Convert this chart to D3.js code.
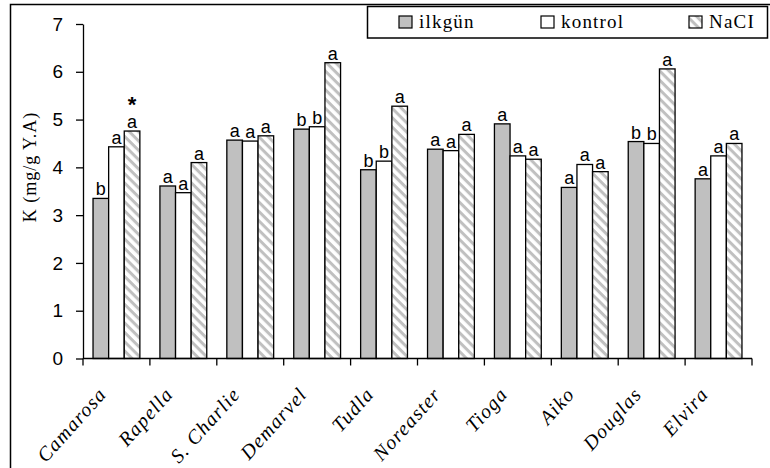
<!doctype html>
<html>
<head>
  <meta charset="utf-8">
  <title>K (mg/g Y.A)</title>
  <script src="https://cdn.jsdelivr.net/npm/d3@7/dist/d3.min.js"></script>
  <style>
    body { margin: 0; background: #fff; }
    svg { display: block; }
  </style>
</head>
<body>
<svg width="770" height="468"></svg>
<script>
var categories = ["Camarosa", "Rapella", "S. Charlie", "Demarvel", "Tudla",
                  "Noreaster", "Tioga", "Aiko", "Douglas", "Elvira"];
var seriesNames = ["ilkgün", "kontrol", "NaCI"];
var ilkgun  = [3.35, 3.61, 4.57, 4.80, 3.95, 4.38, 4.91, 3.58, 4.54, 3.76];
var kontrol = [4.43, 3.47, 4.55, 4.85, 4.13, 4.35, 4.24, 4.06, 4.50, 4.24];
var nacl    = [4.76, 4.10, 4.66, 6.19, 5.28, 4.69, 4.17, 3.91, 6.06, 4.50];
var ilkgunLetters  = ["b", "a", "a", "b", "b", "a", "a", "a", "b", "a"];
var kontrolLetters = ["a", "a", "a", "b", "b", "a", "a", "a", "b", "a"];
var naclLetters    = ["a", "a", "a", "a", "a", "a", "a", "a", "a", "a"];
var naclStars      = ["*", "", "", "", "", "", "", "", "", ""];
var yTicks = [0, 1, 2, 3, 4, 5, 6, 7];

var svg = d3.select("svg");

// hatch for NaCI bars
var defs = svg.append("defs");
var pat = defs.append("pattern")
    .attr("id", "hatch")
    .attr("patternUnits", "userSpaceOnUse")
    .attr("width", 8).attr("height", 6.6)
    .attr("patternTransform", "rotate(45)");
pat.append("rect").attr("width", 8).attr("height", 6.6).attr("fill", "#fff");
pat.append("rect").attr("width", 8).attr("height", 3).attr("fill", "#c0c0c0");

var fills = ["#c0c0c0", "#ffffff", "url(#hatch)"];
var values = [ilkgun, kontrol, nacl];
var letters = [ilkgunLetters, kontrolLetters, naclLetters];

// outer frame (left + top edges visible)
svg.append("path")
    .attr("d", "M10.5,470V4.5H772")
    .attr("fill", "none").attr("stroke", "#000").attr("stroke-width", 1.5);

var plotLeft = 83, plotRight = 752, plotTop = 24, plotBottom = 358.5;

var x0 = d3.scaleBand().domain(categories).range([plotLeft, plotRight])
    .paddingInner(0.3).paddingOuter(0.15);
var x1 = d3.scaleBand().domain(seriesNames).range([0, x0.bandwidth()]);
var y = d3.scaleLinear().domain([0, 7]).range([plotBottom, plotTop]);

// y axis
var yAxis = svg.append("g")
    .attr("transform", "translate(" + plotLeft + ",0)")
    .call(d3.axisLeft(y).tickValues(yTicks).tickFormat(d3.format("d"))
      .tickSize(7).tickSizeOuter(0).tickPadding(13));
yAxis.select(".domain").attr("stroke", "#000").attr("stroke-width", 1.3);
yAxis.selectAll(".tick line").attr("stroke", "#000").attr("stroke-width", 1.3);
yAxis.selectAll(".tick text")
    .attr("font-family", "'Liberation Sans', Arial, sans-serif")
    .attr("font-size", 19).attr("fill", "#000");

// bars
var groups = svg.selectAll(".grp")
    .data(categories)
  .enter().append("g")
    .attr("class", "grp")
    .attr("transform", function(d) { return "translate(" + x0(d) + ",0)"; });

seriesNames.forEach(function(s, si) {
  groups.append("rect")
      .attr("x", x1(s))
      .attr("y", function(d, i) { return y(values[si][i]); })
      .attr("width", x1.bandwidth())
      .attr("height", function(d, i) { return plotBottom - y(values[si][i]); })
      .attr("fill", fills[si])
      .attr("stroke", "#000")
      .attr("stroke-width", 1.3);

  groups.append("text")
      .attr("x", x1(s) + x1.bandwidth() / 2)
      .attr("y", function(d, i) { return y(values[si][i]) - 3; })
      .attr("text-anchor", "middle")
      .attr("font-family", "'Liberation Sans', Arial, sans-serif")
      .attr("font-size", 18)
      .text(function(d, i) { return letters[si][i]; });
});

groups.append("text")
    .attr("x", x1("NaCI") + x1.bandwidth() / 2)
    .attr("y", function(d, i) { return y(nacl[i]) - 19; })
    .attr("text-anchor", "middle")
    .attr("font-family", "'Liberation Sans', Arial, sans-serif")
    .attr("font-size", 22)
    .attr("font-weight", "bold")
    .text(function(d, i) { return naclStars[i]; });

// x axis
svg.append("line")
    .attr("x1", plotLeft).attr("x2", plotRight)
    .attr("y1", plotBottom).attr("y2", plotBottom)
    .attr("stroke", "#000").attr("stroke-width", 1.3);

var bounds = categories.map(function(c) { return x0(c) - x0.step() * x0.paddingOuter(); });
bounds.push(plotRight);
svg.selectAll(".xtick")
    .data(bounds)
  .enter().append("line")
    .attr("x1", function(d) { return d; }).attr("x2", function(d) { return d; })
    .attr("y1", plotBottom).attr("y2", plotBottom + 7)
    .attr("stroke", "#000").attr("stroke-width", 1.3);

svg.selectAll(".xlab")
    .data(categories)
  .enter().append("text")
    .attr("transform", function(d) {
      return "translate(" + (x0(d) + x0.bandwidth() / 2 - 9) + ",395) rotate(-48)";
    })
    .attr("text-anchor", "end")
    .attr("font-family", "'Liberation Serif', 'Times New Roman', serif")
    .attr("font-style", "italic")
    .attr("font-size", 20)
    .attr("letter-spacing", 1.2)
    .text(function(d) { return d; });

// y label
svg.append("text")
    .attr("transform", "translate(36,167) rotate(-90)")
    .attr("text-anchor", "middle")
    .attr("font-family", "'Liberation Serif', 'Times New Roman', serif")
    .attr("font-size", 18)
    .attr("letter-spacing", 1)
    .text("K (mg/g Y.A)");

// legend
svg.append("rect")
    .attr("x", 367.5).attr("y", 6.5).attr("width", 400).attr("height", 31.5)
    .attr("fill", "#fff").attr("stroke", "#000").attr("stroke-width", 1.5);

var legX = [399, 541, 689];
var leg = svg.selectAll(".leg")
    .data(seriesNames)
  .enter().append("g")
    .attr("transform", function(d, i) { return "translate(" + legX[i] + ",16)"; });
leg.append("rect")
    .attr("width", 13).attr("height", 12)
    .attr("fill", function(d, i) { return fills[i]; })
    .attr("stroke", "#000").attr("stroke-width", 1.2);
leg.append("text")
    .attr("x", 20).attr("y", 12)
    .attr("font-family", "'Liberation Serif', 'Times New Roman', serif")
    .attr("font-size", 19)
    .attr("letter-spacing", 1.2)
    .text(function(d) { return d; });
</script>
</body>
</html>
